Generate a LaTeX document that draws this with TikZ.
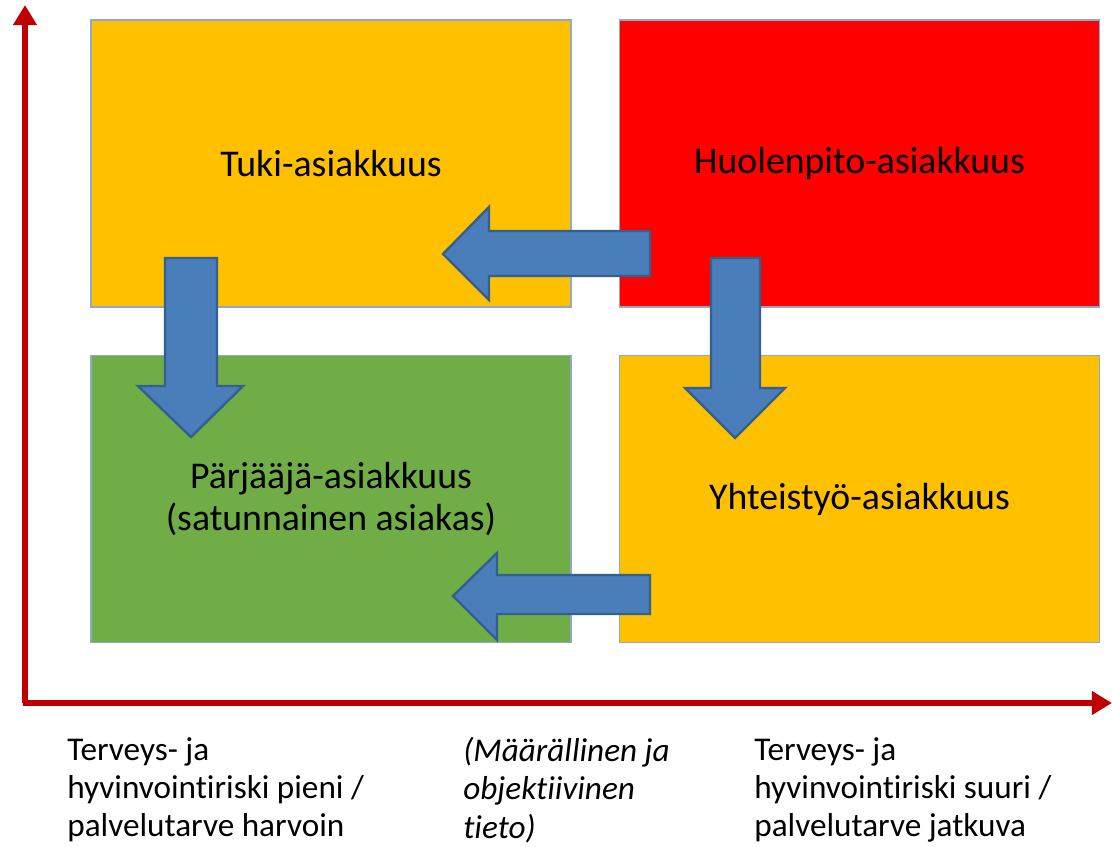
\documentclass[tikz,border=0pt]{standalone}
\usepackage{fontspec}
\setmainfont[Ligatures={NoCommon}]{Carlito}
\usetikzlibrary{arrows.meta}
\definecolor{boxorange}{HTML}{FFC000}
\definecolor{boxred}{HTML}{FF0000}
\definecolor{boxgreen}{HTML}{70AD47}
\definecolor{boxedge}{HTML}{8EA9CB}
\definecolor{arrowfill}{HTML}{4A7EBB}
\definecolor{arrowedge}{HTML}{34608F}
\definecolor{axisred}{HTML}{C00000}
\tikzset{
  quad/.style={draw=boxedge, line width=1pt, minimum width=9.6cm, minimum height=5.74cm,
    inner sep=0pt, align=center, font=\fontsize{21.5}{23.5}\selectfont},
  blockarrow/.style={fill=arrowfill, draw=arrowedge, line width=1.4pt, line join=miter},
  axis/.style={draw=axisred, line width=3.3pt, -{Triangle[length=11.5pt,width=13pt]}},
  axislabel/.style={inner sep=0pt, anchor=north west, align=left, font=\fontsize{18.9}{21.8}\selectfont}
}
\begin{document}
\begin{tikzpicture}[x=0.02cm,y=-0.02cm]
\useasboundingbox (0,0) rectangle (1112,847);
% quadrants
\node[quad, fill=boxorange] (tuki) at (331,163.5) {Tuki-asiakkuus};
\node[quad, fill=boxred] (huolenpito) at (859.5,163.5) {Huolenpito-asiakkuus};
\node[quad, fill=boxgreen] (parjaaja) at (331,499) {Pärjääjä-asiakkuus\\(satunnainen asiakas)};
\node[quad, fill=boxorange] (yhteistyo) at (859.5,499) {Yhteistyö-asiakkuus};
% block arrows
\draw[blockarrow] (650,231) -- (489,231) -- (489,207) -- (443,254) -- (489,300) -- (489,276) -- (650,276) -- cycle;
\draw[blockarrow] (165,258) -- (217,258) -- (217,386) -- (243,386) -- (191,437) -- (138,386) -- (165,386) -- cycle;
\draw[blockarrow] (711,258) -- (760,258) -- (760,388) -- (785,388) -- (735,438) -- (685,388) -- (711,388) -- cycle;
\draw[blockarrow] (650,575) -- (497,575) -- (497,553) -- (453,596) -- (497,640) -- (497,614) -- (650,614) -- cycle;
% axes
\coordinate (origin) at (25,703);
\coordinate (ytop) at (25,5);
\coordinate (xend) at (1112,703);
\coordinate (xstart) at (23.3,703);
\draw[axis] (origin) -- (ytop);
\draw[axis] (xstart) -- (xend);
% axis labels
\node[axislabel] (lowlabel) at (67,737) {Terveys- ja\\hyvinvointiriski pieni /\\palvelutarve harvoin};
\node[axislabel, font=\fontsize{18.9}{21.8}\selectfont\itshape] (midlabel) at (463,737) {(Määrällinen ja\\objektiivinen\\tieto)};
\node[axislabel] (highlabel) at (754,737) {Terveys- ja\\hyvinvointiriski suuri /\\palvelutarve jatkuva};
\end{tikzpicture}
\end{document}
